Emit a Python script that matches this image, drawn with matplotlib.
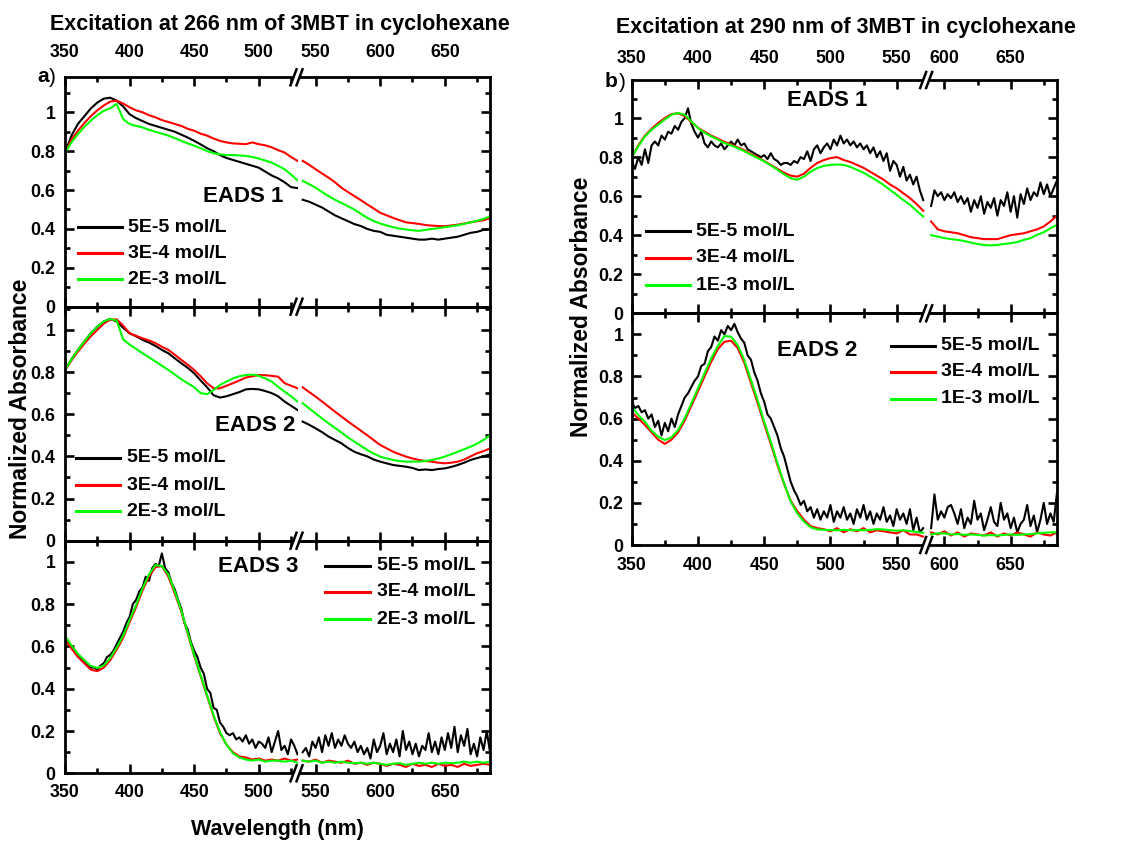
import numpy as np
import matplotlib
matplotlib.use("Agg")
import matplotlib.pyplot as plt
from matplotlib.lines import Line2D
from matplotlib.patches import Polygon
from matplotlib.ticker import MultipleLocator, FuncFormatter

plt.rcParams['font.family'] = ['Liberation Sans', 'DejaVu Sans']
plt.rcParams['font.weight'] = 'bold'

# ---------------- data ----------------
labels_a = ["5E-5 mol/L", "3E-4 mol/L", "2E-3 mol/L"]
labels_b = ["5E-5 mol/L", "3E-4 mol/L", "1E-3 mol/L"]
colors = ["#000000", "#ff0000", "#00ff00"]

# panel a : wavelength segments (nm)
a_left_range = (350, 530)
a_right_range = (540, 685)
# panel b : wavelength segments (nm)
b_left_range = (350, 570)
b_right_range = (590, 685)

# ---- a) EADS 1
a1_black_L = [0.79, 0.88, 0.94, 0.98, 1.02, 1.05, 1.07, 1.075, 1.06, 1.03,
              0.99, 0.97, 0.955, 0.94, 0.93, 0.92, 0.91, 0.90, 0.885, 0.87,
              0.853, 0.835, 0.815, 0.80, 0.78, 0.765, 0.755, 0.745, 0.735, 0.725,
              0.715, 0.695, 0.675, 0.66, 0.64, 0.615, 0.61]
a1_black_R = [0.55, 0.54, 0.525, 0.51, 0.49, 0.47, 0.455, 0.44, 0.425, 0.415,
              0.40, 0.39, 0.385, 0.37, 0.365, 0.36, 0.355, 0.35, 0.345, 0.345,
              0.35, 0.345, 0.35, 0.355, 0.36, 0.37, 0.38, 0.385, 0.395, 0.40]
a1_red_L = [0.79, 0.86, 0.905, 0.945, 0.98, 1.01, 1.035, 1.055, 1.06, 1.045,
            1.026, 1.01, 1.0, 0.985, 0.974, 0.96, 0.95, 0.94, 0.93, 0.915,
            0.905, 0.89, 0.88, 0.865, 0.853, 0.845, 0.84, 0.838, 0.836, 0.845,
            0.836, 0.83, 0.82, 0.805, 0.793, 0.77, 0.75]
a1_red_R = [0.75, 0.73, 0.707, 0.685, 0.664, 0.64, 0.612, 0.59, 0.569, 0.548,
            0.526, 0.505, 0.483, 0.47, 0.457, 0.445, 0.434, 0.43, 0.426, 0.42,
            0.417, 0.415, 0.414, 0.418, 0.422, 0.428, 0.434, 0.44, 0.445, 0.455]
a1_green_L = [0.79, 0.845, 0.888, 0.925, 0.957, 0.985, 1.008, 1.02, 1.043, 0.965,
              0.94, 0.93, 0.922, 0.91, 0.90, 0.89, 0.88, 0.867, 0.853, 0.84,
              0.828, 0.815, 0.80, 0.79, 0.784, 0.78, 0.78, 0.778, 0.776, 0.77,
              0.762, 0.752, 0.741, 0.725, 0.707, 0.68, 0.65]
a1_green_R = [0.647, 0.63, 0.612, 0.59, 0.569, 0.55, 0.534, 0.517, 0.50, 0.478,
              0.457, 0.44, 0.428, 0.418, 0.409, 0.402, 0.397, 0.393, 0.39, 0.395,
              0.40, 0.404, 0.409, 0.414, 0.419, 0.426, 0.434, 0.442, 0.452, 0.465]

# ---- a) EADS 2
a2_black_L = [0.81, 0.86, 0.905, 0.945, 0.984, 1.015, 1.04, 1.052, 1.04, 1.01,
              0.984, 0.97, 0.953, 0.94, 0.924, 0.905, 0.889, 0.865, 0.842, 0.82,
              0.794, 0.76, 0.728, 0.69, 0.679, 0.685, 0.695, 0.705, 0.718, 0.72,
              0.718, 0.71, 0.70, 0.685, 0.66, 0.64, 0.62]
a2_black_R = [0.565, 0.55, 0.533, 0.515, 0.494, 0.478, 0.462, 0.44, 0.422, 0.41,
              0.40, 0.385, 0.375, 0.367, 0.359, 0.355, 0.351, 0.345, 0.335, 0.338,
              0.335, 0.34, 0.343, 0.35, 0.359, 0.37, 0.383, 0.392, 0.40, 0.41]
a2_red_L = [0.81, 0.855, 0.897, 0.935, 0.97, 1.0, 1.03, 1.048, 1.05, 1.02,
            0.984, 0.972, 0.96, 0.95, 0.937, 0.92, 0.905, 0.882, 0.858, 0.835,
            0.81, 0.78, 0.747, 0.723, 0.723, 0.735, 0.747, 0.76, 0.774, 0.78,
            0.786, 0.785, 0.782, 0.778, 0.747, 0.735, 0.723]
a2_red_R = [0.728, 0.705, 0.684, 0.66, 0.636, 0.612, 0.589, 0.566, 0.544, 0.522,
            0.50, 0.477, 0.454, 0.438, 0.422, 0.41, 0.399, 0.39, 0.383, 0.378,
            0.375, 0.37, 0.367, 0.37, 0.375, 0.385, 0.40, 0.415, 0.425, 0.438]
a2_green_L = [0.81, 0.86, 0.905, 0.945, 0.984, 1.015, 1.04, 1.052, 1.044, 0.955,
              0.93, 0.91, 0.889, 0.87, 0.85, 0.83, 0.81, 0.788, 0.766, 0.747,
              0.728, 0.70, 0.695, 0.715, 0.739, 0.755, 0.77, 0.78, 0.786, 0.788,
              0.782, 0.77, 0.755, 0.73, 0.707, 0.685, 0.66]
a2_green_R = [0.652, 0.628, 0.604, 0.58, 0.557, 0.535, 0.513, 0.49, 0.47, 0.45,
              0.43, 0.413, 0.399, 0.39, 0.383, 0.378, 0.375, 0.375, 0.375, 0.378,
              0.383, 0.39, 0.399, 0.41, 0.422, 0.434, 0.446, 0.46, 0.478, 0.50]

# ---- a) EADS 3
a3_black_L = [0.64, 0.62, 0.60, 0.58, 0.56, 0.54, 0.53, 0.51, 0.50, 0.50,
              0.49, 0.51, 0.52, 0.55, 0.56, 0.58, 0.61, 0.64, 0.67, 0.71,
              0.74, 0.80, 0.82, 0.86, 0.88, 0.93, 0.91, 0.97, 0.99, 0.98,
              1.04, 0.97, 0.95, 0.90, 0.87, 0.82, 0.78, 0.71, 0.68, 0.62,
              0.58, 0.55, 0.50, 0.47, 0.40, 0.38, 0.31, 0.30, 0.24, 0.22,
              0.19, 0.18, 0.19, 0.16, 0.17, 0.15, 0.18, 0.14, 0.16, 0.12,
              0.15, 0.14, 0.12, 0.17, 0.10, 0.15, 0.20, 0.11, 0.13, 0.09,
              0.16, 0.13, 0.09]
a3_black_R = [0.10, 0.12, 0.08, 0.15, 0.12, 0.17, 0.10, 0.18, 0.13, 0.19,
              0.12, 0.16, 0.13, 0.18, 0.14, 0.12, 0.15, 0.10, 0.13, 0.09,
              0.12, 0.07, 0.16, 0.10, 0.13, 0.19, 0.09, 0.14, 0.10, 0.16,
              0.08, 0.20, 0.11, 0.15, 0.09, 0.14, 0.08, 0.13, 0.11, 0.19,
              0.10, 0.15, 0.09, 0.17, 0.11, 0.19, 0.12, 0.22, 0.10, 0.18,
              0.13, 0.21, 0.09, 0.14, 0.08, 0.17, 0.11, 0.20, 0.10]
a3_red_L = [0.633, 0.59, 0.55, 0.52, 0.49, 0.483, 0.50, 0.535, 0.585, 0.64,
            0.715, 0.785, 0.865, 0.93, 0.975, 0.98, 0.93, 0.85, 0.765, 0.66,
            0.555, 0.46, 0.365, 0.27, 0.19, 0.135, 0.10, 0.08, 0.075, 0.065,
            0.07, 0.06, 0.065, 0.06, 0.07, 0.06, 0.065]
a3_red_R = [0.06, 0.055, 0.065, 0.05, 0.06, 0.055, 0.05, 0.06, 0.045, 0.05,
            0.04, 0.05, 0.045, 0.035, 0.045, 0.04, 0.03, 0.045, 0.035, 0.04,
            0.03, 0.045, 0.035, 0.04, 0.03, 0.045, 0.035, 0.04, 0.045, 0.04]
a3_green_L = [0.65, 0.605, 0.565, 0.535, 0.508, 0.498, 0.51, 0.545, 0.595, 0.65,
              0.725, 0.795, 0.875, 0.94, 0.985, 0.98, 0.94, 0.86, 0.77, 0.665,
              0.56, 0.465, 0.37, 0.275, 0.195, 0.135, 0.095, 0.075, 0.065, 0.06,
              0.065, 0.055, 0.06, 0.06, 0.055, 0.06, 0.05]
a3_green_R = [0.06, 0.055, 0.06, 0.05, 0.055, 0.05, 0.055, 0.05, 0.048, 0.05,
              0.045, 0.05, 0.045, 0.04, 0.045, 0.048, 0.04, 0.045, 0.05, 0.045,
              0.05, 0.045, 0.05, 0.048, 0.05, 0.055, 0.05, 0.055, 0.05, 0.055]

# ---- b) EADS 1
b1_black_L = [0.78, 0.74, 0.80, 0.76, 0.84, 0.77, 0.86, 0.88, 0.86, 0.91,
              0.89, 0.93, 0.92, 0.96, 0.94, 0.98, 1.00, 1.05, 0.97, 0.93,
              0.90, 0.93, 0.87, 0.85, 0.88, 0.86, 0.85, 0.87, 0.84, 0.86,
              0.88, 0.86, 0.89, 0.86, 0.87, 0.84, 0.83, 0.82, 0.81, 0.80,
              0.81, 0.79, 0.82, 0.79, 0.78, 0.76, 0.77, 0.77, 0.76, 0.78,
              0.77, 0.80, 0.79, 0.83, 0.78, 0.84, 0.86, 0.82, 0.85, 0.87,
              0.84, 0.89, 0.86, 0.91, 0.87, 0.89, 0.86, 0.88, 0.85, 0.87,
              0.84, 0.86, 0.82, 0.85, 0.80, 0.83, 0.78, 0.82, 0.73, 0.78,
              0.76, 0.70, 0.75, 0.68, 0.71, 0.66, 0.70, 0.63, 0.58]
b1_black_R = [0.55, 0.63, 0.60, 0.62, 0.58, 0.61, 0.59, 0.62, 0.57, 0.60,
              0.56, 0.59, 0.52, 0.58, 0.54, 0.60, 0.51, 0.57, 0.54, 0.59,
              0.50, 0.58, 0.55, 0.62, 0.52, 0.60, 0.49, 0.61, 0.56, 0.64,
              0.58, 0.62, 0.60, 0.67, 0.61, 0.66, 0.60, 0.64, 0.68]
b1_red_L = [0.80, 0.86, 0.91, 0.945, 0.975, 1.0, 1.02, 1.025, 1.01, 0.98,
            0.95, 0.93, 0.91, 0.895, 0.878, 0.865, 0.85, 0.835, 0.815, 0.80,
            0.78, 0.76, 0.74, 0.72, 0.705, 0.70, 0.715, 0.745, 0.77, 0.785,
            0.795, 0.80, 0.785, 0.775, 0.76, 0.745, 0.725, 0.705, 0.685, 0.66,
            0.64, 0.615, 0.59, 0.56, 0.525]
b1_red_R = [0.47, 0.43, 0.42, 0.415, 0.41, 0.40, 0.39, 0.385, 0.38, 0.38,
            0.38, 0.39, 0.40, 0.405, 0.41, 0.42, 0.43, 0.445, 0.47, 0.50]
b1_green_L = [0.80, 0.855, 0.906, 0.94, 0.966, 0.993, 1.017, 1.026, 1.017, 0.983,
              0.949, 0.925, 0.906, 0.89, 0.872, 0.86, 0.846, 0.83, 0.812, 0.795,
              0.778, 0.757, 0.735, 0.712, 0.692, 0.684, 0.70, 0.725, 0.744, 0.755,
              0.76, 0.762, 0.76, 0.75, 0.735, 0.72, 0.70, 0.68, 0.658, 0.632,
              0.607, 0.58, 0.556, 0.525, 0.496]
b1_green_R = [0.40, 0.393, 0.385, 0.38, 0.376, 0.37, 0.362, 0.355, 0.35, 0.348,
              0.35, 0.355, 0.359, 0.365, 0.376, 0.385, 0.402, 0.415, 0.435, 0.453]

# ---- b) EADS 2
b2_black_L = [0.68, 0.65, 0.66, 0.63, 0.64, 0.60, 0.62, 0.56, 0.59, 0.52,
              0.58, 0.54, 0.60, 0.56, 0.62, 0.66, 0.70, 0.72, 0.75, 0.78,
              0.80, 0.85, 0.86, 0.92, 0.94, 0.99, 0.97, 1.02, 1.00, 1.04,
              1.02, 1.05, 1.01, 0.98, 0.96, 0.90, 0.88, 0.82, 0.78, 0.72,
              0.68, 0.62, 0.60, 0.56, 0.52, 0.46, 0.42, 0.36, 0.30, 0.26,
              0.23, 0.19, 0.21, 0.16, 0.18, 0.13, 0.17, 0.12, 0.16, 0.13,
              0.19, 0.11, 0.16, 0.13, 0.18, 0.12, 0.15, 0.10, 0.17, 0.13,
              0.19, 0.12, 0.16, 0.10, 0.15, 0.12, 0.18, 0.11, 0.14, 0.09,
              0.17, 0.12, 0.15, 0.10, 0.17, 0.07, 0.13, 0.06, 0.08]
b2_black_R = [0.08, 0.24, 0.12, 0.16, 0.13, 0.18, 0.19, 0.15, 0.10, 0.17,
              0.08, 0.13, 0.10, 0.21, 0.12, 0.15, 0.07, 0.12, 0.18, 0.11,
              0.09, 0.20, 0.12, 0.15, 0.08, 0.13, 0.06, 0.10, 0.12, 0.19,
              0.09, 0.14, 0.06, 0.12, 0.20, 0.10, 0.15, 0.11, 0.25]
b2_red_L = [0.63, 0.60, 0.57, 0.535, 0.50, 0.48, 0.50, 0.535, 0.59, 0.66,
            0.73, 0.80, 0.87, 0.93, 0.965, 0.97, 0.935, 0.865, 0.77, 0.675,
            0.575, 0.48, 0.38, 0.29, 0.21, 0.16, 0.12, 0.09, 0.08, 0.075,
            0.065, 0.08, 0.06, 0.075, 0.065, 0.08, 0.06, 0.07, 0.065, 0.06,
            0.055, 0.07, 0.05, 0.05, 0.04]
b2_red_R = [0.06, 0.05, 0.065, 0.045, 0.06, 0.04, 0.055, 0.05, 0.045, 0.06,
            0.04, 0.055, 0.045, 0.06, 0.05, 0.04, 0.06, 0.05, 0.045, 0.06]
b2_green_L = [0.657, 0.617, 0.585, 0.543, 0.514, 0.498, 0.511, 0.546, 0.601, 0.672,
              0.744, 0.815, 0.886, 0.945, 0.992, 0.989, 0.949, 0.878, 0.783, 0.688,
              0.585, 0.49, 0.388, 0.293, 0.206, 0.15, 0.111, 0.084, 0.074, 0.072,
              0.071, 0.07, 0.072, 0.07, 0.071, 0.07, 0.072, 0.075, 0.074, 0.07,
              0.068, 0.07, 0.066, 0.062, 0.058]
b2_green_R = [0.05, 0.055, 0.055, 0.05, 0.052, 0.048, 0.05, 0.048, 0.045, 0.047,
              0.045, 0.048, 0.05, 0.048, 0.05, 0.052, 0.055, 0.058, 0.06, 0.06]

# ---------------- layout helpers ----------------
W, H = 1123, 843
fig = plt.figure(figsize=(W / 100, H / 100), dpi=100)


def fx(px):
    return px / W


def fy(py):
    return 1 - py / H


def fmt(v, pos):
    return f"{v:g}"


def make_row(x0, x1, xlimL, xlimR, ytop, ybot, ymax, toplab, botlab, pad_top, pad_bot, pad_left):
    span = (xlimL[1] - xlimL[0]) + (xlimR[1] - xlimR[0])
    wl = (x1 - x0) * (xlimL[1] - xlimL[0]) / span
    wr = (x1 - x0) - wl
    axL = fig.add_axes([fx(x0), fy(ybot), wl / W, (ybot - ytop) / H])
    axR = fig.add_axes([fx(x0 + wl), fy(ybot), wr / W, (ybot - ytop) / H])
    for ax, lim in ((axL, xlimL), (axR, xlimR)):
        ax.set_xlim(*lim)
        ax.set_ylim(0, ymax)
        ax.xaxis.set_major_locator(MultipleLocator(50))
        ax.xaxis.set_minor_locator(MultipleLocator(25))
        ax.yaxis.set_major_locator(MultipleLocator(0.2))
        ax.yaxis.set_minor_locator(MultipleLocator(0.1))
        ax.yaxis.set_major_formatter(FuncFormatter(fmt))
        for s in ax.spines.values():
            s.set_linewidth(2.0)
        ax.tick_params(which='both', direction='in', top=True, bottom=True,
                       labeltop=toplab, labelbottom=botlab, labelsize=12.8, width=1.9)
        ax.tick_params(which='major', length=6.5)
        ax.tick_params(which='minor', length=3.5)
        ax.tick_params(axis='x', which='both', pad=pad_bot)
        if toplab:
            ax.tick_params(axis='x', which='both', pad=pad_top)
        ax.patch.set_alpha(0)
    axL.spines['right'].set_visible(False)
    axR.spines['left'].set_visible(False)
    axL.tick_params(axis='y', which='both', left=True, right=False, labelleft=True, pad=pad_left)
    axR.tick_params(axis='y', which='both', left=False, right=True, labelleft=False)
    return axL, axR, x0 + wl


def break_marks(xj, ys):
    for y in ys:
        poly = Polygon([(fx(xj - 7), fy(y + 8)), (fx(xj - 1), fy(y - 8)),
                        (fx(xj + 5), fy(y - 8)), (fx(xj - 1), fy(y + 8))],
                       closed=True, transform=fig.transFigure, facecolor='white',
                       edgecolor='none', zorder=20)
        fig.add_artist(poly)
        for dx in (0, 6):
            fig.add_artist(Line2D([fx(xj - 7 + dx), fx(xj - 1 + dx)], [fy(y + 8), fy(y - 8)],
                                  transform=fig.transFigure, color='black', lw=1.8, zorder=21))


def plot_series(axL, axR, rngL, rngR, series):
    for (yl, yr), c in zip(series, colors):
        xl = np.linspace(rngL[0], rngL[1], len(yl))
        xr = np.linspace(rngR[0], rngR[1], len(yr))
        axL.plot(xl, yl, color=c, lw=1.5)
        axR.plot(xr, yr, color=c, lw=1.5)


def legend(x0, x1, tx, ys, labs):
    for y, lab, c in zip(ys, labs, colors):
        fig.add_artist(Line2D([fx(x0), fx(x1)], [fy(y), fy(y)], transform=fig.transFigure,
                              color=c, lw=2.2, zorder=15))
        fig.text(fx(tx), fy(y), lab, fontsize=14, fontweight='bold', va='center', ha='left', zorder=15)


# ---------------- column a ----------------
AX0, AX1 = 65, 490
xlimL_a, xlimR_a = (350, 530), (536, 685)
rows_a = [(77.3, 306.7, 1.18), (306.7, 540.7, 1.11), (540.7, 773.3, 1.10)]
series_a = [
    [(a1_black_L, a1_black_R), (a1_red_L, a1_red_R), (a1_green_L, a1_green_R)],
    [(a2_black_L, a2_black_R), (a2_red_L, a2_red_R), (a2_green_L, a2_green_R)],
    [(a3_black_L, a3_black_R), (a3_red_L, a3_red_R), (a3_green_L, a3_green_R)],
]
for i, ((yt, yb, ym), ser) in enumerate(zip(rows_a, series_a)):
    axL, axR, xj_a = make_row(AX0, AX1, xlimL_a, xlimR_a, yt, yb, ym,
                              toplab=(i == 0), botlab=(i == 2), pad_top=11.5, pad_bot=8, pad_left=7)
    plot_series(axL, axR, a_left_range, a_right_range, ser)
break_marks(xj_a, [77.3, 306.7, 540.7, 773.3])

# ---------------- column b ----------------
BX0, BX1 = 631.7, 1057
xlimL_b, xlimR_b = (350, 573), (587, 685)
rows_b = [(80, 313.3, 1.195), (313.3, 545, 1.10)]
series_b = [
    [(b1_black_L, b1_black_R), (b1_red_L, b1_red_R), (b1_green_L, b1_green_R)],
    [(b2_black_L, b2_black_R), (b2_red_L, b2_red_R), (b2_green_L, b2_green_R)],
]
for i, ((yt, yb, ym), ser) in enumerate(zip(rows_b, series_b)):
    axL, axR, xj_b = make_row(BX0, BX1, xlimL_b, xlimR_b, yt, yb, ym,
                              toplab=(i == 0), botlab=(i == 1), pad_top=9, pad_bot=9, pad_left=6)
    plot_series(axL, axR, b_left_range, b_right_range, ser)
break_marks(xj_b, [80, 313.3, 545])

# ---------------- texts ----------------
fig.text(fx(279.5), fy(30), "Excitation at 266 nm of 3MBT in cyclohexane", fontsize=15.5,
         fontweight='bold', ha='center', va='baseline')
fig.text(fx(846), fy(33), "Excitation at 290 nm of 3MBT in cyclohexane", fontsize=15.5,
         fontweight='bold', ha='center', va='baseline')
fig.text(fx(37), fy(82), "a", fontsize=15, fontweight='bold', ha='left', va='baseline')
fig.text(fx(48.5), fy(83), ")", fontsize=15, fontweight='normal', ha='left', va='baseline')
fig.text(fx(605), fy(87), "b", fontsize=15, fontweight='bold', ha='left', va='baseline')
fig.text(fx(618.5), fy(88), ")", fontsize=15, fontweight='normal', ha='left', va='baseline')

fig.text(fx(21), fy(409), "Normalized Absorbance", fontsize=16.5, fontweight='bold',
         rotation=90, ha='center', va='center')
fig.text(fx(582), fy(307), "Normalized Absorbance", fontsize=16.5, fontweight='bold',
         rotation=90, ha='center', va='center')
fig.text(fx(277), fy(829), "Wavelength (nm)", fontsize=15.5, fontweight='bold',
         ha='center', va='center')

for (x, y, s) in [(203, 196, "EADS 1"), (215, 425, "EADS 2"), (218, 566, "EADS 3"),
                  (787, 101, "EADS 1"), (777, 351, "EADS 2")]:
    fig.text(fx(x), fy(y), s, fontsize=16, fontweight='bold', ha='left', va='center', zorder=5)

legend(78, 122, 128, [227, 253, 279], labels_a)
legend(76, 120, 127, [458, 485, 511], labels_a)
legend(325, 370, 377, [566, 592, 619], labels_a)
legend(646, 690, 696, [231, 258, 285], labels_b)
legend(891, 935, 941, [346, 372, 399], labels_b)

fig.savefig("out.png", dpi=100)
